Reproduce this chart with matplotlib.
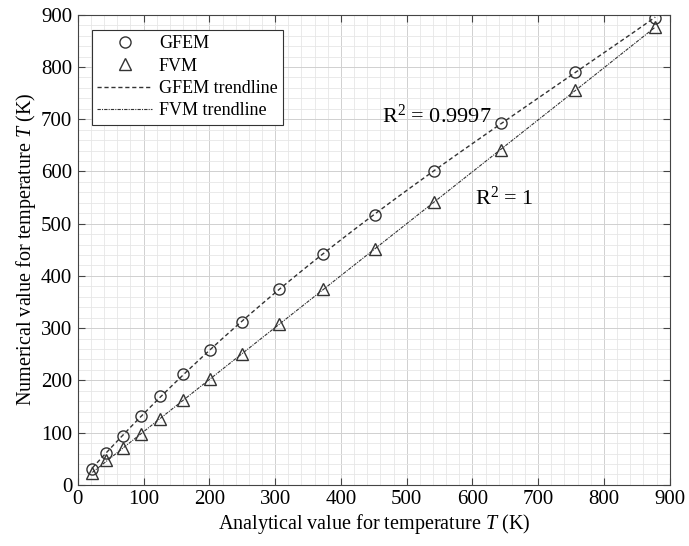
import numpy as np
import matplotlib
matplotlib.use('Agg')
import matplotlib.pyplot as plt
from matplotlib.ticker import MultipleLocator

plt.rcParams['font.family'] = 'Liberation Serif'
plt.rcParams['mathtext.fontset'] = 'custom'
plt.rcParams['mathtext.rm'] = 'Liberation Serif'
plt.rcParams['mathtext.it'] = 'Liberation Serif:italic'

# analytical temperature (K)
analytical = [22, 43, 68, 96, 125, 160, 201, 250, 306, 373, 452, 541, 643, 756, 878]
# numerical results
gfem = [30, 61, 94, 132, 170, 213, 259, 312, 374, 441, 517, 601, 692, 791, 894]
fvm = [22, 47, 70, 98, 126, 162, 203, 251, 308, 374, 451, 541, 642, 755, 876]

r2_gfem = '0.9997'
r2_fvm = '1'

x = np.array(analytical)
xx = np.linspace(x.min(), x.max(), 300)
gfem_fit = np.polyval(np.polyfit(x, gfem, 3), xx)
fvm_fit = np.polyval(np.polyfit(x, fvm, 3), xx)

fig = plt.figure(figsize=(6.89, 5.46), dpi=100)
ax = fig.add_axes([0.113, 0.112, 0.859, 0.861])

ax.plot(x, gfem, 'o', mfc='none', mec='#333333', ms=8, mew=1.0, label='GFEM', zorder=3)
ax.plot(x, fvm, '^', mfc='none', mec='#333333', ms=9, mew=1.0, label='FVM', zorder=3)
ax.plot(xx, gfem_fit, color='#333333', lw=1.0, ls=(0, (3, 2)), label='GFEM trendline')
ax.plot(xx, fvm_fit, color='#333333', lw=0.8, ls=(0, (3, 1, 1, 1)), label='FVM trendline')

ax.text(463, 693, r'R$^2$ = ' + r2_gfem, fontsize=16)
ax.text(604, 536, r'R$^2$ = ' + r2_fvm, fontsize=16)

ax.set_xlim(0, 900)
ax.set_ylim(0, 900)
ax.xaxis.set_major_locator(MultipleLocator(100))
ax.yaxis.set_major_locator(MultipleLocator(100))
ax.xaxis.set_minor_locator(MultipleLocator(20))
ax.yaxis.set_minor_locator(MultipleLocator(20))
ax.grid(which='major', color='#d0d0d0', lw=0.7)
ax.grid(which='minor', color='#e6e6e6', lw=0.6)
ax.set_axisbelow(True)
ax.tick_params(which='major', direction='in', length=5, top=True, right=True, labelsize=15, color='#444444', pad=4)
ax.tick_params(which='minor', length=0)
for s in ax.spines.values():
    s.set_color('#444444')
    s.set_linewidth(0.8)

ax.set_xlabel(r'Analytical value for temperature $T$ (K)', fontsize=14.5, labelpad=2)
ax.set_ylabel(r'Numerical value for temperature $T$ (K)', fontsize=14.5, labelpad=2)

leg = ax.legend(loc='upper left', bbox_to_anchor=(0.024, 0.968), fontsize=13, frameon=True,
                fancybox=False, edgecolor='#333333', framealpha=1, handlelength=3.0,
                borderpad=0.3, labelspacing=0.3, handletextpad=0.4, borderaxespad=0)
leg.get_frame().set_linewidth(0.8)

fig.savefig('out.png', dpi=100)
